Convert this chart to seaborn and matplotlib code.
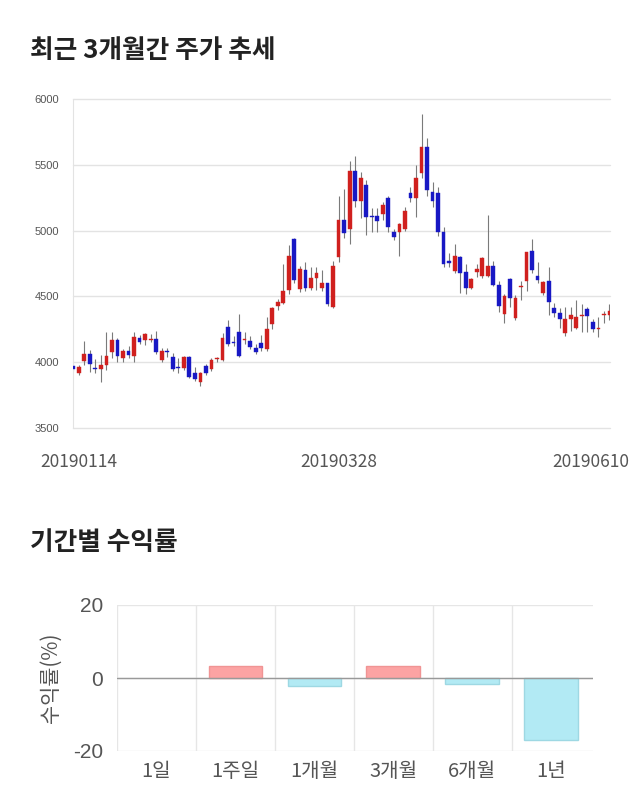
import matplotlib
matplotlib.use("Agg")
import matplotlib.pyplot as plt
import matplotlib.transforms as mtransforms
import numpy as np
import pandas as pd
import seaborn as sns

sns.set_style("white")
plt.rcParams['font.family'] = ['Noto Sans CJK KR', 'DejaVu Sans']

# ---------------- data ----------------
opens = [3970, 3916, 4009, 4060, 3950, 3948, 3978, 4080, 4169, 4035,
         4083, 4047, 4181, 4169, 4165, 4176, 4017, 4082, 4042, 3960,
         3954, 4037, 3920, 3848, 3971, 3946, 4022, 4017, 4270, 4150,
         4226, 4168, 4161, 4110, 4145, 4098, 4289, 4427, 4452, 4549,
         4936, 4556, 4700, 4562, 4637, 4567, 4600, 4422, 4797, 5080,
         5010, 5456, 5225, 5346, 5110, 5110, 5126, 5245, 4992, 4988,
         5010, 5284, 5246, 5436, 5633, 5296, 5289, 4992, 4769, 4696,
         4802, 4688, 4567, 4684, 4658, 4658, 4734, 4587, 4364, 4632,
         4334, 4574, 4617, 4847, 4658, 4529, 4617, 4410, 4372, 4220,
         4326, 4263, 4352, 4402, 4303, 4250, 4362, 4357]
highs = [3985, 3981, 4161, 4094, 4022, 4052, 4232, 4227, 4184, 4100,
         4120, 4232, 4204, 4220, 4215, 4240, 4110, 4110, 4070, 4030,
         4045, 4045, 3960, 3925, 3985, 4030, 4040, 4220, 4320, 4200,
         4366, 4230, 4200, 4140, 4210, 4340, 4420, 4480, 4746, 4890,
         4940, 4730, 4760, 4720, 4720, 4700, 4600, 4770, 5265, 5316,
         5531, 5567, 5448, 5385, 5172, 5170, 5220, 5260, 5010, 5060,
         5180, 5330, 5500, 5886, 5701, 5370, 5330, 5030, 4830, 4900,
         4810, 4746, 4640, 4746, 4800, 5118, 4770, 4620, 4520, 4640,
         4510, 4620, 4840, 4936, 4760, 4620, 4720, 4450, 4410, 4420,
         4420, 4470, 4440, 4420, 4330, 4340, 4390, 4440]
lows = [3935, 3900, 3978, 3925, 3916, 3852, 3940, 4035, 4000, 4000,
        4030, 4003, 4140, 4130, 4150, 4060, 4005, 4040, 3930, 3920,
        3940, 3880, 3860, 3822, 3905, 3930, 4000, 4010, 4120, 4120,
        4040, 4140, 4100, 4060, 4085, 4085, 4250, 4400, 4440, 4520,
        4600, 4530, 4540, 4550, 4550, 4540, 4430, 4410, 4760, 4940,
        4900, 5180, 5094, 4966, 4992, 4990, 5080, 4990, 4930, 4807,
        5000, 5220, 5106, 5400, 5260, 5180, 4960, 4720, 4720, 4680,
        4524, 4518, 4560, 4650, 4640, 4650, 4580, 4380, 4300, 4420,
        4320, 4470, 4540, 4680, 4600, 4510, 4360, 4340, 4260, 4200,
        4240, 4250, 4230, 4230, 4230, 4190, 4300, 4320]
closes = [3945, 3963, 4062, 3985, 3945, 3978, 4050, 4169, 4047, 4083,
          4053, 4189, 4151, 4212, 4180, 4080, 4083, 4078, 3948, 3955,
          4037, 3890, 3870, 3916, 3920, 4017, 4025, 4181, 4138, 4148,
          4050, 4170, 4118, 4080, 4110, 4250, 4410, 4455, 4543, 4807,
          4625, 4706, 4562, 4637, 4676, 4600, 4442, 4731, 5080, 4980,
          5456, 5225, 5397, 5106, 5100, 5076, 5195, 5025, 4950, 5050,
          5149, 5246, 5397, 5638, 5308, 5228, 4992, 4746, 4752, 4807,
          4676, 4562, 4632, 4706, 4795, 4734, 4587, 4427, 4503, 4491,
          4491, 4576, 4835, 4700, 4625, 4607, 4455, 4372, 4326, 4326,
          4357, 4346, 4356, 4351, 4250, 4263, 4366, 4389]
date_tick_idx = [0, 48, 97]
date_tick_labels = ['20190114', '20190328', '20190610']
price_ticks = [3500, 4000, 4500, 5000, 5500, 6000]

periods = ['1일', '1주일', '1개월', '3개월', '6개월', '1년']
returns = [0.0, 3.2, -2.1, 3.2, -1.6, -16.9]
return_ticks = [-20, 0, 20]

# ---------------- figure ----------------
fig = plt.figure(figsize=(6.4, 8.1), dpi=100)
fig.patch.set_facecolor('white')

title_kw = dict(fontsize=18.5, fontweight='bold', color='#222222',
                family=['Noto Sans CJK KR', 'DejaVu Sans'], va='center', ha='left')
fig.text(30 / 640, 1 - 51 / 810, '최근 3개월간 주가 추세', **title_kw)
fig.text(30 / 640, 1 - 543 / 810, '기간별 수익률', **title_kw)

grid_c = '#e3e3e3'

# ---------- candlestick ----------
ax = fig.add_axes([72.7 / 640, 1 - 428 / 810, (610 - 72.7) / 640, (428 - 99) / 810])
df = pd.DataFrame({'o': opens, 'h': highs, 'l': lows, 'c': closes})
df['i'] = np.arange(len(df))
up = df['c'] >= df['o']
red, blue = '#D0201E', '#1818C4'
cols = np.where(up, red, blue)
ax.vlines(df['i'], df['l'], df['h'], color='#7a7a7a', linewidth=0.8, zorder=2)
body_bottom = np.minimum(df['o'], df['c'])
body_h = np.maximum(np.abs(df['c'] - df['o']), 8)
ax.bar(df['i'], body_h, bottom=body_bottom, width=0.68, color=cols,
       edgecolor=cols, linewidth=0.3, zorder=3)
ax.set_xlim(-0.1, len(df) - 0.9)
ax.set_ylim(3500, 6000)
ax.set_yticks(price_ticks)
ax.set_yticklabels([str(t) for t in price_ticks], fontsize=8, color='#555555',
                   family=['Liberation Sans', 'DejaVu Sans'])
for t in price_ticks:
    ax.axhline(t, color=grid_c, linewidth=1, zorder=0, clip_on=False)
for s in ['top', 'right', 'bottom']:
    ax.spines[s].set_visible(False)
ax.spines['left'].set_color(grid_c)
ax.tick_params(axis='y', length=10, color=grid_c, pad=0)
ax.set_xticks(date_tick_idx)
ax.set_xticklabels(date_tick_labels, fontsize=12.5, color='#555555')
ax.tick_params(axis='x', length=0, pad=18)
labs = ax.get_xticklabels()
labs[0].set_transform(labs[0].get_transform() + mtransforms.ScaledTranslation(6 / 100, 0, fig.dpi_scale_trans))
labs[-1].set_transform(labs[-1].get_transform() + mtransforms.ScaledTranslation(-19 / 100, 0, fig.dpi_scale_trans))

# ---------- returns bar chart ----------
ax2 = fig.add_axes([117 / 640, 1 - 751 / 810, (593 - 117) / 640, (751 - 605) / 810])
rdf = pd.DataFrame({'period': periods, 'ret': returns})
rdf['sign'] = np.where(rdf['ret'] >= 0, 'pos', 'neg')
sns.barplot(data=rdf, x='period', y='ret', hue='sign',
            palette={'pos': '#FCA3A3', 'neg': '#B2EAF4'}, saturation=1,
            dodge=False, width=0.68, legend=False, ax=ax2, zorder=3)
for p in ax2.patches:
    h = p.get_height()
    if h > 0:
        p.set_edgecolor('#F09494')
    elif h < 0:
        p.set_edgecolor('#9ED8E3')
    p.set_linewidth(1.0)
ax2.set_ylim(-20, 20)
ax2.set_xlim(-0.5, len(periods) - 0.47)
ax2.set_yticks(return_ticks)
ax2.set_yticklabels([str(t) for t in return_ticks], fontsize=15, color='#555555',
                    family=['Liberation Sans', 'DejaVu Sans'])
ax2.axhline(0, color='#999999', linewidth=1, zorder=4)
ax2.set_xticks(np.arange(len(periods)))
ax2.set_xticklabels(periods, fontsize=14.5, color='#555555')
ax2.set_xticks(np.arange(len(periods)) - 0.5, minor=True)
ax2.tick_params(axis='x', which='major', length=0, pad=7)
ax2.tick_params(axis='x', which='minor', length=11, color='#e6e6e6', width=1)
ax2.tick_params(axis='y', length=0, pad=10)
ax2.grid(axis='x', which='minor', color='#e6e6e6', linewidth=1)
ax2.grid(axis='y', which='major', color='#e6e6e6', linewidth=1)
ax2.grid(axis='x', which='major', visible=False)
for s in ['top', 'right', 'bottom', 'left']:
    ax2.spines[s].set_visible(False)
ax2.set_xlabel('')
ax2.set_ylabel('수익률(%)', fontsize=15, color='#555555', labelpad=8)

fig.savefig('out.png', dpi=100, facecolor='white')
